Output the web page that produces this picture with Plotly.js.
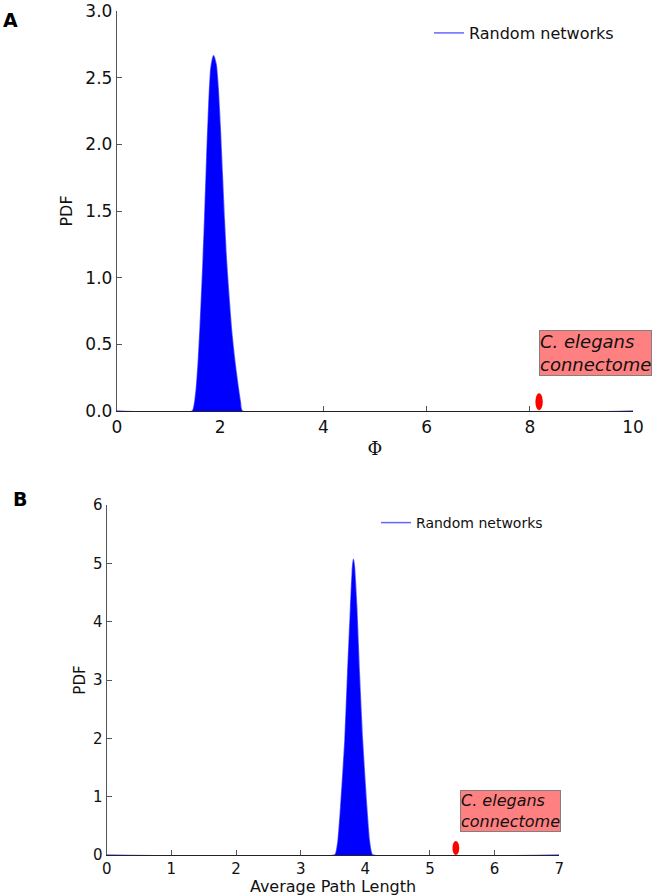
<!DOCTYPE html>
<html>
<head>
<meta charset="utf-8">
<script src="https://cdn.plot.ly/plotly-3.0.1.min.js"></script>
<style>html,body{margin:0;padding:0;background:#fff;}#chart{width:660px;height:896px;}</style>
</head>
<body>
<div id="chart"></div>
<script>
// Panel A: PDF of Phi for random networks
const phiX   = [0, 1.46, 1.50, 1.54, 1.58, 1.62, 1.66, 1.70, 1.74, 1.78, 1.82, 1.87, 1.92, 1.96, 2.00, 2.04, 2.08, 2.12, 2.17, 2.22, 2.28, 2.34, 2.39, 2.43, 10];
const phiPDF = [0, 0, 0.05, 0.18, 0.40, 0.70, 1.05, 1.45, 1.90, 2.30, 2.57, 2.665, 2.60, 2.42, 2.13, 1.78, 1.43, 1.13, 0.85, 0.60, 0.38, 0.20, 0.07, 0, 0];
const observedPhi = 8.18;
const observedPhiY = 0.07;

// Panel B: PDF of average path length for random networks
const pathX   = [0, 3.53, 3.55, 3.58, 3.62, 3.685, 3.727, 3.773, 3.80, 3.815, 3.83, 3.866, 3.907, 3.955, 4.02, 4.06, 4.09, 4.11, 7];
const pathPDF = [0, 0, 0.05, 0.26, 0.83, 1.97, 3.11, 4.26, 4.90, 5.07, 4.95, 4.26, 3.11, 1.97, 0.83, 0.26, 0.05, 0, 0];
const observedPath = 5.40;
const observedPathY = 0.12;

const seriesName = 'Random networks';
const observedLabel = '<i>C. elegans<br>connectome</i>';
const phiTicks = [0, 2, 4, 6, 8, 10];
const phiYTicks = [0, 0.5, 1.0, 1.5, 2.0, 2.5, 3.0];
const pathTicks = [0, 1, 2, 3, 4, 5, 6, 7];
const pathYTicks = [0, 1, 2, 3, 4, 5, 6];

const FONT = 'DejaVu Sans, sans-serif';
const W = 660, H = 896;
const px = v => v / W;
const py = v => 1 - v / H;

const traces = [
  {x: phiX, y: phiPDF, type: 'scatter', mode: 'lines', fill: 'tozeroy', fillcolor: '#0000ff',
   line: {width: 0, shape: 'spline', smoothing: 0.6}, xaxis: 'x', yaxis: 'y', showlegend: false, hoverinfo: 'skip'},
  {x: phiX, y: phiPDF, type: 'scatter', mode: 'lines', name: seriesName, cliponaxis: false,
   line: {color: 'rgba(0,0,255,0.6)', width: 1.5, shape: 'spline', smoothing: 0.6}, xaxis: 'x', yaxis: 'y', legend: 'legend'},
  {x: pathX, y: pathPDF, type: 'scatter', mode: 'lines', fill: 'tozeroy', fillcolor: '#0000ff',
   line: {width: 0, shape: 'spline', smoothing: 0.5}, xaxis: 'x2', yaxis: 'y2', showlegend: false, hoverinfo: 'skip'},
  {x: pathX, y: pathPDF, type: 'scatter', mode: 'lines', name: seriesName, cliponaxis: false,
   line: {color: 'rgba(0,0,255,0.6)', width: 1.5, shape: 'spline', smoothing: 0.5}, xaxis: 'x2', yaxis: 'y2', legend: 'legend2'}
];

const axisCommon = {
  showgrid: false, zeroline: false, showline: true, linecolor: '#555', linewidth: 1.2,
  ticks: 'inside', ticklen: 5, tickcolor: '#555', tickwidth: 1, mirror: false
};

const layout = {
  width: W, height: H,
  margin: {l: 0, r: 0, t: 0, b: 0},
  paper_bgcolor: '#fff', plot_bgcolor: '#fff',
  font: {family: FONT, color: '#111'},
  xaxis: Object.assign({}, axisCommon, {
    domain: [px(117), px(633)], range: [0, 10], tickvals: phiTicks, anchor: 'y', layer: 'below traces',
    linecolor: '#222',
    tickfont: {size: 17, family: FONT},
    title: {text: 'Φ', font: {size: 18, family: 'DejaVu Serif, serif'}, standoff: 6}
  }),
  yaxis: Object.assign({}, axisCommon, {
    domain: [py(411), py(11)], range: [0, 3], tickvals: phiYTicks, tickformat: '.1f', anchor: 'x',
    tickfont: {size: 17, family: FONT},
    title: {text: 'PDF', font: {size: 16, family: FONT}, standoff: 8}
  }),
  xaxis2: Object.assign({}, axisCommon, {
    domain: [px(106.7), px(559.3)], range: [0, 7], tickvals: pathTicks, anchor: 'y2', layer: 'below traces',
    linecolor: '#222',
    tickfont: {size: 15, family: FONT},
    title: {text: 'Average Path Length', font: {size: 16, family: FONT}, standoff: 4}
  }),
  yaxis2: Object.assign({}, axisCommon, {
    domain: [py(855), py(505)], range: [0, 6], tickvals: pathYTicks, anchor: 'x2',
    tickfont: {size: 15, family: FONT},
    title: {text: 'PDF', font: {size: 15, family: FONT}, standoff: 3}
  }),
  legend: {x: px(429), y: py(33), xanchor: 'left', yanchor: 'middle', bgcolor: 'rgba(0,0,0,0)',
           borderwidth: 0, font: {size: 16, family: FONT, color: '#111'}},
  legend2: {x: px(376), y: py(523), xanchor: 'left', yanchor: 'middle', bgcolor: 'rgba(0,0,0,0)',
            borderwidth: 0, font: {size: 14, family: FONT, color: '#111'}},
  shapes: [
    {type: 'circle', xref: 'x', yref: 'y', xsizemode: 'pixel', ysizemode: 'pixel',
     xanchor: observedPhi, yanchor: observedPhiY, x0: -3.7, x1: 3.7, y0: -8.5, y1: 8.5,
     fillcolor: '#ff0000', line: {width: 0}},
    {type: 'circle', xref: 'x2', yref: 'y2', xsizemode: 'pixel', ysizemode: 'pixel',
     xanchor: observedPath, yanchor: observedPathY, x0: -3.4, x1: 3.4, y0: -7, y1: 7,
     fillcolor: '#ff0000', line: {width: 0}}
  ],
  annotations: [
    {text: observedLabel, xref: 'x', yref: 'y', x: observedPhi, y: 0.26, xanchor: 'left', yanchor: 'bottom',
     showarrow: false, align: 'left', bgcolor: '#ff8080', bordercolor: '#808080', borderwidth: 1, borderpad: 0,
     font: {size: 18, family: FONT, color: '#111'}},
    {text: observedLabel, xref: 'x2', yref: 'y2', x: 5.47, y: 0.39, xanchor: 'left', yanchor: 'bottom',
     showarrow: false, align: 'left', bgcolor: '#ff8080', bordercolor: '#808080', borderwidth: 1, borderpad: 0,
     font: {size: 16, family: FONT, color: '#111'}},
    {text: '<b>A</b>', xref: 'paper', yref: 'paper', x: px(10), y: py(20), xanchor: 'center', yanchor: 'middle',
     showarrow: false, font: {size: 19, family: FONT, color: '#000'}},
    {text: '<b>B</b>', xref: 'paper', yref: 'paper', x: px(20), y: py(498.7), xanchor: 'center', yanchor: 'middle',
     showarrow: false, font: {size: 19, family: FONT, color: '#000'}}
  ]
};

Plotly.newPlot('chart', traces, layout, {displayModeBar: false, staticPlot: true});
</script>
</body>
</html>
